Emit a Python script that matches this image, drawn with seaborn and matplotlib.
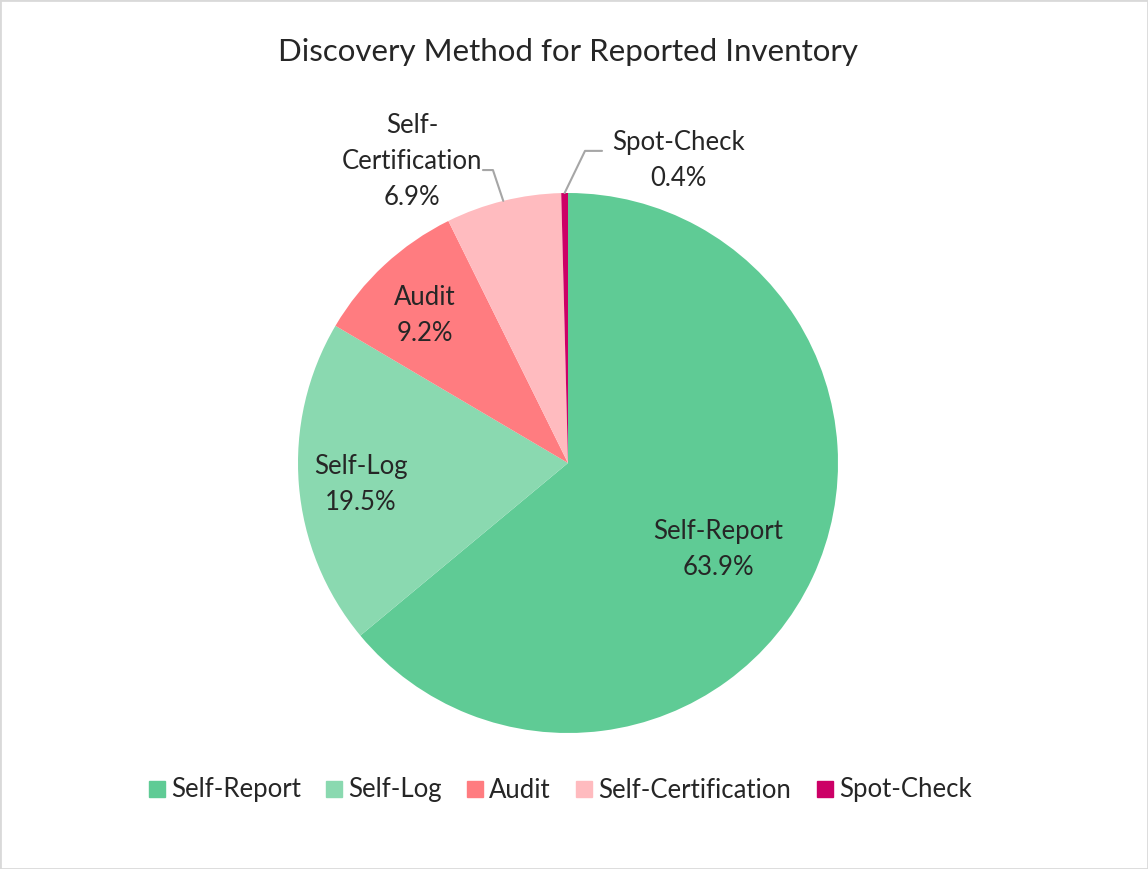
import numpy as np
import matplotlib
matplotlib.use("Agg")
import matplotlib.pyplot as plt
import seaborn as sns
from matplotlib.patches import Rectangle
from matplotlib.lines import Line2D

# data
methods = ["Self-Report", "Self-Log", "Audit", "Self-Certification", "Spot-Check"]
shares = [63.9, 19.5, 9.2, 6.9, 0.4]
label_text = ["Self-Report", "Self-Log", "Audit", "Self-\nCertification", "Spot-Check"]
colors = ["#5FCB95", "#8AD9B0", "#FF7C80", "#FFBBBF", "#CC0066"]

sns.set_theme(style="white")
plt.rcParams["font.family"] = ["Lato", "DejaVu Sans"]

fig = plt.figure(figsize=(11.48, 8.69), dpi=100)
ax = fig.add_axes([298 / 1148, (869 - 733) / 869, 540 / 1148, 540 / 869])

pal = sns.color_palette(colors)
wedges, _ = ax.pie(shares, colors=pal, startangle=90, counterclock=False,
                   radius=1.0, wedgeprops=dict(linewidth=0))
ax.set_xlim(-1, 1)
ax.set_ylim(-1, 1)
ax.set_aspect("equal")
ax.axis("off")

# label positions (in radius units)
label_pos = [(0.556, -0.322), (-0.767, -0.081), (-0.53, 0.548),
             (-0.578, 1.115), (0.41, 1.122)]
for w, txt, share, (lx, ly) in zip(wedges, label_text, shares, label_pos):
    ax.text(lx, ly, f"{txt}\n{share:.1f}%", ha="center", va="center",
            fontsize=18.5, color="#262626", linespacing=1.55, clip_on=False)

# leader lines for the two small slices
def edge_point(w):
    ang = np.deg2rad((w.theta1 + w.theta2) / 2)
    return np.cos(ang), np.sin(ang)

ex, ey = edge_point(wedges[3])
ax.plot([ex, -0.278, -0.315], [ey, 1.085, 1.085], color="#A6A6A6", lw=1.5, clip_on=False)
ex, ey = edge_point(wedges[4])
ax.plot([ex, 0.063, 0.126], [ey, 1.156, 1.156], color="#A6A6A6", lw=1.5, clip_on=False)

fig.text(0.4948, 1 - 52 / 869, "Discovery Method for Reported Inventory",
         ha="center", va="center", fontsize=22.5, color="#262626")

handles = [Line2D([0], [0], marker="s", linestyle="", markersize=11,
                  markerfacecolor=c, markeredgecolor=c) for c in colors]
fig.legend(handles, methods, loc="center", bbox_to_anchor=(0.487, 1 - 790 / 869),
           ncol=5, frameon=False, fontsize=18.5, handletextpad=0.15,
           columnspacing=0.9, handlelength=0.8, labelcolor="#262626")

fig.patches.append(Rectangle((0, 0), 1, 1, transform=fig.transFigure, fill=False,
                             edgecolor="#D9D9D9", linewidth=2))

fig.savefig("out.png", dpi=100, facecolor="white")
